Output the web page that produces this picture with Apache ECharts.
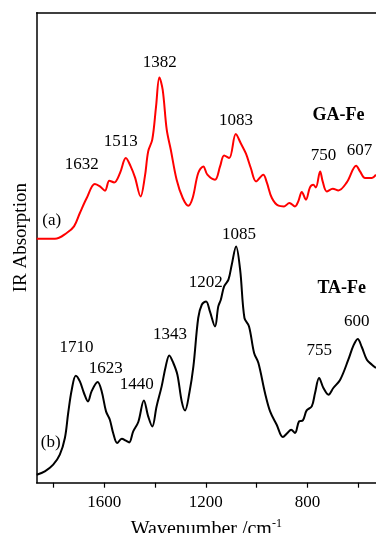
<!DOCTYPE html>
<html>
<head>
<meta charset="utf-8">
<script src="https://cdn.jsdelivr.net/npm/echarts@6/dist/echarts.min.js"></script>
<style>html,body{margin:0;padding:0;background:#fff}#c{width:376px;height:533px}</style>
</head>
<body>
<div id="c"></div>
<script>
// Wavenumbers (cm-1) and relative absorption for GA-Fe (a, red)
var gaWavenumber = [1866,1794,1748,1719,1696,1669,1637,1617,1597,1580,1561,1538,1515,1496,1479,1457,1440,1427,1411,1396,1383,1370,1354,1338,1315,1291,1269,1252,1230,1210,1194,1164,1144,1128,1108,1082,1063,1042,1023,1002,974,960,940,914,892,871,849,836,822,806,790,777,767,750,740,724,700,678,645,608,593,573,546,530];
var gaAbsorption = [244,244,249.7,256.3,269.7,284.7,298.7,296.3,292,302,300.3,309.7,324.7,316.3,305.3,286.3,306.3,331.3,343,376.3,405.3,393,353,333,303,284.7,277,284.7,309.7,316.3,308,303,316.3,327.3,324.7,348.7,339.7,329,314.7,301.3,308,300.3,284.7,277,276.3,279.7,276.3,281.3,290.7,283,295.3,298,295.3,311.3,301.3,291.3,294,292.3,300.3,317,311.3,304.7,304.7,308];

// Wavenumbers (cm-1) and relative absorption for TA-Fe (b, black)
var taWavenumber = [1866,1834,1801,1775,1755,1742,1728,1712,1696,1680,1664,1650,1626,1610,1593,1578,1565,1549,1531,1515,1502,1486,1466,1444,1427,1411,1394,1374,1358,1344,1328,1312,1295,1282,1265,1249,1230,1216,1199,1184,1164,1151,1141,1128,1111,1098,1081,1065,1048,1030,1010,993,967,947,921,897,879,864,849,833,818,803,783,770,754,737,717,698,671,639,619,602,586,566,546,530];
var taAbsorption = [8,11.3,18,28,44.7,69.7,93,107,101.3,89.7,81.3,91.3,100.7,91.3,71.3,63,49.7,39.7,44,42,40.3,51.3,60.7,82.3,66.3,56.3,76.3,96.3,116.3,127.3,119.7,108,81.3,72.3,89.7,116.3,164.7,178,181.3,171.3,156.3,176.3,183,196.3,203,218,236.3,213,164.7,156.3,129.7,119.7,89.7,71.3,58,45.7,49.7,53,49.7,61.3,62.3,72.3,76.3,89.7,104.7,94.7,88,94.7,103,123,137,143.7,135.7,123,118,114.7];

// Tick values
var tickValues = [600,800,1000,1200,1400,1600,1800];
var tickLabels = [800,1200,1600];

// Annotations: text, wavenumber, absorption
var gaNotes = ['1632','1513','1382','1083','750','607','(a)'];
var gaNoteX = [1689,1535,1381,1081,737,595,1807];
var gaNoteY = [318,340.7,419.7,362,327.3,332.3,262.3];
var taNotes = ['1710','1623','1440','1343','1202','1085','755','600','(b)'];
var taNoteX = [1709,1594,1472,1341,1200,1069,753,606,1811];
var taNoteY = [134.7,114,98,148,200.3,247.7,132.3,161.3,40.3];
var sampleNames = ['GA-Fe','TA-Fe'];
var sampleX = [678,665];
var sampleY = [367.3,194.7];

function zip(xs, ys){ return xs.map(function(x,i){ return [x, ys[i]]; }); }
function notes(texts, xs, ys){ return texts.map(function(t,i){ return {name:t, value:[xs[i], ys[i]]}; }); }

var FONT = '"Liberation Serif","Times New Roman",serif';
var chart = echarts.init(document.getElementById('c'), null, {renderer:'canvas'});
chart.setOption({
  backgroundColor:'#fff',
  animation:false,
  grid:{left:36.7, right:0, top:12.7, bottom:50.3, outerBoundsMode:'none', containLabel:false},
  xAxis:[{
    type:'value', inverse:true, min:530, max:1866,
    axisLine:{show:true, lineStyle:{color:'#000', width:1.5}},
    axisTick:{show:true, inside:false, length:5, customValues:tickValues, lineStyle:{color:'#000', width:1.2}},
    axisLabel:{show:true, customValues:tickLabels, margin:11, color:'#000', fontFamily:FONT, fontSize:17,
      formatter:function(v){ return String(v); }},
    splitLine:{show:false},
    name:'Wavenumber /cm{sup|-1}', nameLocation:'middle', nameGap:35,
    nameTextStyle:{color:'#000', fontFamily:FONT, fontSize:20,
      rich:{sup:{fontFamily:FONT, fontSize:12, color:'#000', padding:[0,0,12,0]}}}
  },{
    type:'value', inverse:true, min:530, max:1866, position:'top',
    axisLine:{show:true, lineStyle:{color:'#000', width:1.5}},
    axisTick:{show:false}, axisLabel:{show:false}, splitLine:{show:false}
  }],
  yAxis:{
    type:'value', min:0, max:470,
    axisLine:{show:true, lineStyle:{color:'#000', width:1.5}},
    axisTick:{show:false}, axisLabel:{show:false}, splitLine:{show:false},
    name:'IR Absorption', nameLocation:'middle', nameGap:6,
    nameTextStyle:{color:'#000', fontFamily:FONT, fontSize:19, padding:[0,0,0,20]}
  },
  series:[
    {type:'line', name:'GA-Fe', data:zip(gaWavenumber, gaAbsorption), smooth:0.35, showSymbol:false,
     lineStyle:{color:'#ff0000', width:2}, itemStyle:{color:'#ff0000'}},
    {type:'line', name:'TA-Fe', data:zip(taWavenumber, taAbsorption), smooth:0.35, showSymbol:false,
     lineStyle:{color:'#000', width:2}, itemStyle:{color:'#000'}},
    {type:'scatter', symbolSize:0, silent:true, itemStyle:{opacity:1},
     data:notes(gaNotes.concat(taNotes), gaNoteX.concat(taNoteX), gaNoteY.concat(taNoteY)),
     label:{show:true, position:'inside', formatter:'{b}', color:'#000', opacity:1, textBorderWidth:0, fontFamily:FONT, fontSize:17}},
    {type:'scatter', symbolSize:0, silent:true, itemStyle:{opacity:1},
     data:notes(sampleNames, sampleX, sampleY),
     label:{show:true, position:'inside', formatter:'{b}', color:'#000', opacity:1, textBorderWidth:0, fontFamily:FONT, fontSize:18, fontWeight:'bold'}}
  ]
});
</script>
</body>
</html>
